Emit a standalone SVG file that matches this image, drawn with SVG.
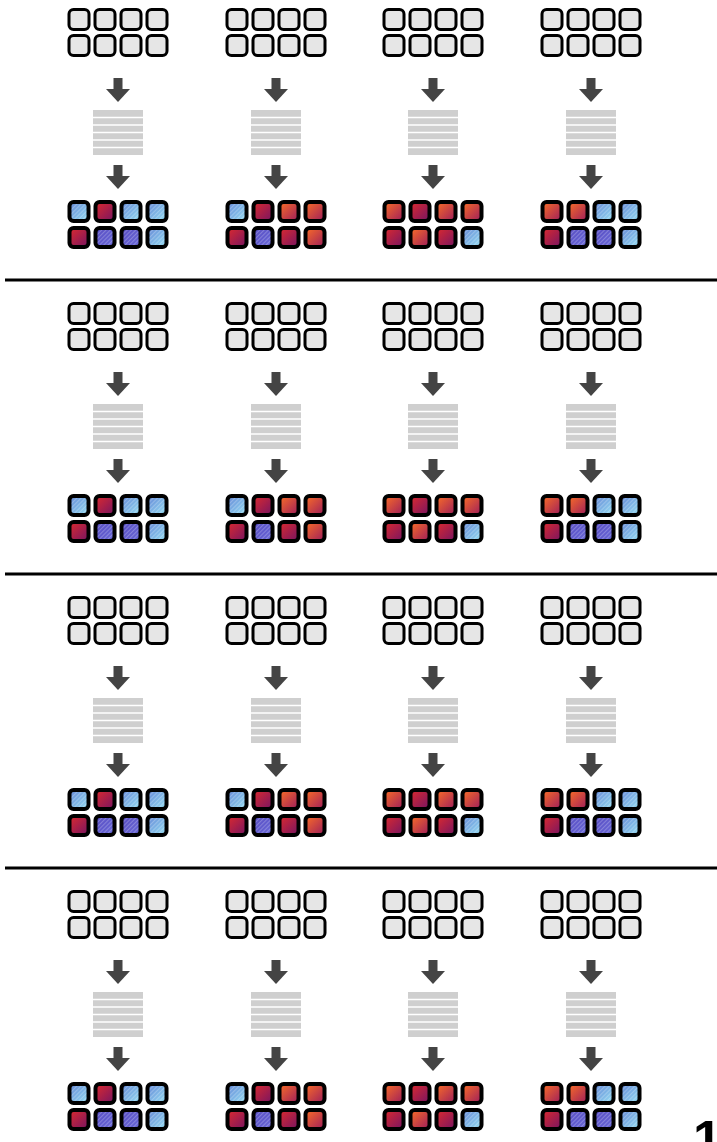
<svg xmlns="http://www.w3.org/2000/svg" xmlns:xlink="http://www.w3.org/1999/xlink" width="717" height="1142" viewBox="0 0 717 1142">
<style>
.g{fill:#e6e6e6;stroke:#000;stroke-width:3}
.c{stroke:#000;stroke-width:4}
.b{fill:url(#gB)}
.r{fill:url(#gR)}
.o{fill:url(#gO)}
.p{fill:url(#gP)}
.h{fill:url(#hatch);stroke:none}
.sep{stroke:#000;stroke-width:3}
.arr{fill:#444}
.num{font-family:"Liberation Sans",Arial,sans-serif;font-weight:bold;font-size:52px;fill:#000}
</style>
<defs>
<linearGradient id="gB" x1="0" y1="0" x2="1" y2="1"><stop offset="0" stop-color="#6386d6"/><stop offset="1" stop-color="#97dff3"/></linearGradient>
<linearGradient id="gR" x1="0" y1="0" x2="1" y2="1"><stop offset="0" stop-color="#dc2a2e"/><stop offset="1" stop-color="#761462"/></linearGradient>
<linearGradient id="gO" x1="0" y1="0" x2="1" y2="1"><stop offset="0" stop-color="#fb6e26"/><stop offset="1" stop-color="#9c1c5c"/></linearGradient>
<linearGradient id="gP" x1="0" y1="0" x2="1" y2="1"><stop offset="0" stop-color="#574cc2"/><stop offset="1" stop-color="#6a6ad8"/></linearGradient>
<pattern id="hatch" width="3" height="3" patternUnits="userSpaceOnUse" patternTransform="rotate(45)"><line x1="0.5" y1="0" x2="0.5" y2="3" stroke="#ffffff" stroke-width="0.8" stroke-opacity="0.3"/></pattern>
<g id="gray">
<rect class="g" x="1.5" y="1.5" width="20" height="20" rx="4.5"/><rect class="g" x="27.5" y="1.5" width="20" height="20" rx="4.5"/><rect class="g" x="53.5" y="1.5" width="20" height="20" rx="4.5"/><rect class="g" x="79.5" y="1.5" width="20" height="20" rx="4.5"/>
<rect class="g" x="1.5" y="27.5" width="20" height="20" rx="4.5"/><rect class="g" x="27.5" y="27.5" width="20" height="20" rx="4.5"/><rect class="g" x="53.5" y="27.5" width="20" height="20" rx="4.5"/><rect class="g" x="79.5" y="27.5" width="20" height="20" rx="4.5"/>
</g>
<g id="stripes">
<rect x="0" y="0" width="50" height="45" fill="#cfcfcf"/>
<g stroke="#fff" stroke-width="1.5"><line x1="0" y1="7.5" x2="50" y2="7.5"/><line x1="0" y1="15" x2="50" y2="15"/><line x1="0" y1="22.5" x2="50" y2="22.5"/><line x1="0" y1="30" x2="50" y2="30"/><line x1="0" y1="37.5" x2="50" y2="37.5"/></g>
</g>
<g id="arrow"><rect class="arr" x="-4.5" y="0" width="9" height="12"/><polygon class="arr" points="-12,11 12,11 0,24"/></g>
<g id="out1">
<rect class="c b" x="2" y="2" width="19" height="19" rx="4"/><rect class="h" x="4" y="4" width="15" height="15" rx="2.5"/>
<rect class="c r" x="28" y="2" width="19" height="19" rx="4"/>
<rect class="c b" x="54" y="2" width="19" height="19" rx="4"/><rect class="h" x="56" y="4" width="15" height="15" rx="2.5"/>
<rect class="c b" x="80" y="2" width="19" height="19" rx="4"/><rect class="h" x="82" y="4" width="15" height="15" rx="2.5"/>
<rect class="c r" x="2" y="28" width="19" height="19" rx="4"/>
<rect class="c p" x="28" y="28" width="19" height="19" rx="4"/><rect class="h" x="30" y="30" width="15" height="15" rx="2.5"/>
<rect class="c p" x="54" y="28" width="19" height="19" rx="4"/><rect class="h" x="56" y="30" width="15" height="15" rx="2.5"/>
<rect class="c b" x="80" y="28" width="19" height="19" rx="4"/><rect class="h" x="82" y="30" width="15" height="15" rx="2.5"/>
</g>
<g id="out2">
<rect class="c b" x="2" y="2" width="19" height="19" rx="4"/><rect class="h" x="4" y="4" width="15" height="15" rx="2.5"/>
<rect class="c r" x="28" y="2" width="19" height="19" rx="4"/>
<rect class="c o" x="54" y="2" width="19" height="19" rx="4"/>
<rect class="c o" x="80" y="2" width="19" height="19" rx="4"/>
<rect class="c r" x="2" y="28" width="19" height="19" rx="4"/>
<rect class="c p" x="28" y="28" width="19" height="19" rx="4"/><rect class="h" x="30" y="30" width="15" height="15" rx="2.5"/>
<rect class="c r" x="54" y="28" width="19" height="19" rx="4"/>
<rect class="c o" x="80" y="28" width="19" height="19" rx="4"/>
</g>
<g id="out3">
<rect class="c o" x="2" y="2" width="19" height="19" rx="4"/>
<rect class="c r" x="28" y="2" width="19" height="19" rx="4"/>
<rect class="c o" x="54" y="2" width="19" height="19" rx="4"/>
<rect class="c o" x="80" y="2" width="19" height="19" rx="4"/>
<rect class="c r" x="2" y="28" width="19" height="19" rx="4"/>
<rect class="c o" x="28" y="28" width="19" height="19" rx="4"/>
<rect class="c r" x="54" y="28" width="19" height="19" rx="4"/>
<rect class="c b" x="80" y="28" width="19" height="19" rx="4"/><rect class="h" x="82" y="30" width="15" height="15" rx="2.5"/>
</g>
<g id="out4">
<rect class="c o" x="2" y="2" width="19" height="19" rx="4"/>
<rect class="c o" x="28" y="2" width="19" height="19" rx="4"/>
<rect class="c b" x="54" y="2" width="19" height="19" rx="4"/><rect class="h" x="56" y="4" width="15" height="15" rx="2.5"/>
<rect class="c b" x="80" y="2" width="19" height="19" rx="4"/><rect class="h" x="82" y="4" width="15" height="15" rx="2.5"/>
<rect class="c r" x="2" y="28" width="19" height="19" rx="4"/>
<rect class="c p" x="28" y="28" width="19" height="19" rx="4"/><rect class="h" x="30" y="30" width="15" height="15" rx="2.5"/>
<rect class="c p" x="54" y="28" width="19" height="19" rx="4"/><rect class="h" x="56" y="30" width="15" height="15" rx="2.5"/>
<rect class="c b" x="80" y="28" width="19" height="19" rx="4"/><rect class="h" x="82" y="30" width="15" height="15" rx="2.5"/>
</g>
</defs>
<rect width="717" height="1142" fill="#fff"/>
<g id="separators">
<line class="sep" x1="5" y1="280" x2="717" y2="280"/>
<line class="sep" x1="5" y1="574" x2="717" y2="574"/>
<line class="sep" x1="5" y1="868" x2="717" y2="868"/>
</g>
<g id="connectors">
<use href="#arrow" x="118" y="78"/><use href="#arrow" x="276" y="78"/><use href="#arrow" x="433" y="78"/><use href="#arrow" x="591" y="78"/>
<use href="#arrow" x="118" y="165"/><use href="#arrow" x="276" y="165"/><use href="#arrow" x="433" y="165"/><use href="#arrow" x="591" y="165"/>
<use href="#arrow" x="118" y="372"/><use href="#arrow" x="276" y="372"/><use href="#arrow" x="433" y="372"/><use href="#arrow" x="591" y="372"/>
<use href="#arrow" x="118" y="459"/><use href="#arrow" x="276" y="459"/><use href="#arrow" x="433" y="459"/><use href="#arrow" x="591" y="459"/>
<use href="#arrow" x="118" y="666"/><use href="#arrow" x="276" y="666"/><use href="#arrow" x="433" y="666"/><use href="#arrow" x="591" y="666"/>
<use href="#arrow" x="118" y="753"/><use href="#arrow" x="276" y="753"/><use href="#arrow" x="433" y="753"/><use href="#arrow" x="591" y="753"/>
<use href="#arrow" x="118" y="960"/><use href="#arrow" x="276" y="960"/><use href="#arrow" x="433" y="960"/><use href="#arrow" x="591" y="960"/>
<use href="#arrow" x="118" y="1047"/><use href="#arrow" x="276" y="1047"/><use href="#arrow" x="433" y="1047"/><use href="#arrow" x="591" y="1047"/>
</g>
<g id="s1c1-input"><use href="#gray" x="67.5" y="8"/></g>
<g id="s1c1-model"><use href="#stripes" x="93" y="110"/></g>
<g id="s1c1-output"><use href="#out1" x="67.5" y="200"/></g>
<g id="s1c2-input"><use href="#gray" x="225.5" y="8"/></g>
<g id="s1c2-model"><use href="#stripes" x="251" y="110"/></g>
<g id="s1c2-output"><use href="#out2" x="225.5" y="200"/></g>
<g id="s1c3-input"><use href="#gray" x="382.5" y="8"/></g>
<g id="s1c3-model"><use href="#stripes" x="408" y="110"/></g>
<g id="s1c3-output"><use href="#out3" x="382.5" y="200"/></g>
<g id="s1c4-input"><use href="#gray" x="540.5" y="8"/></g>
<g id="s1c4-model"><use href="#stripes" x="566" y="110"/></g>
<g id="s1c4-output"><use href="#out4" x="540.5" y="200"/></g>
<g id="s2c1-input"><use href="#gray" x="67.5" y="302"/></g>
<g id="s2c1-model"><use href="#stripes" x="93" y="404"/></g>
<g id="s2c1-output"><use href="#out1" x="67.5" y="494"/></g>
<g id="s2c2-input"><use href="#gray" x="225.5" y="302"/></g>
<g id="s2c2-model"><use href="#stripes" x="251" y="404"/></g>
<g id="s2c2-output"><use href="#out2" x="225.5" y="494"/></g>
<g id="s2c3-input"><use href="#gray" x="382.5" y="302"/></g>
<g id="s2c3-model"><use href="#stripes" x="408" y="404"/></g>
<g id="s2c3-output"><use href="#out3" x="382.5" y="494"/></g>
<g id="s2c4-input"><use href="#gray" x="540.5" y="302"/></g>
<g id="s2c4-model"><use href="#stripes" x="566" y="404"/></g>
<g id="s2c4-output"><use href="#out4" x="540.5" y="494"/></g>
<g id="s3c1-input"><use href="#gray" x="67.5" y="596"/></g>
<g id="s3c1-model"><use href="#stripes" x="93" y="698"/></g>
<g id="s3c1-output"><use href="#out1" x="67.5" y="788"/></g>
<g id="s3c2-input"><use href="#gray" x="225.5" y="596"/></g>
<g id="s3c2-model"><use href="#stripes" x="251" y="698"/></g>
<g id="s3c2-output"><use href="#out2" x="225.5" y="788"/></g>
<g id="s3c3-input"><use href="#gray" x="382.5" y="596"/></g>
<g id="s3c3-model"><use href="#stripes" x="408" y="698"/></g>
<g id="s3c3-output"><use href="#out3" x="382.5" y="788"/></g>
<g id="s3c4-input"><use href="#gray" x="540.5" y="596"/></g>
<g id="s3c4-model"><use href="#stripes" x="566" y="698"/></g>
<g id="s3c4-output"><use href="#out4" x="540.5" y="788"/></g>
<g id="s4c1-input"><use href="#gray" x="67.5" y="890"/></g>
<g id="s4c1-model"><use href="#stripes" x="93" y="992"/></g>
<g id="s4c1-output"><use href="#out1" x="67.5" y="1082"/></g>
<g id="s4c2-input"><use href="#gray" x="225.5" y="890"/></g>
<g id="s4c2-model"><use href="#stripes" x="251" y="992"/></g>
<g id="s4c2-output"><use href="#out2" x="225.5" y="1082"/></g>
<g id="s4c3-input"><use href="#gray" x="382.5" y="890"/></g>
<g id="s4c3-model"><use href="#stripes" x="408" y="992"/></g>
<g id="s4c3-output"><use href="#out3" x="382.5" y="1082"/></g>
<g id="s4c4-input"><use href="#gray" x="540.5" y="890"/></g>
<g id="s4c4-model"><use href="#stripes" x="566" y="992"/></g>
<g id="s4c4-output"><use href="#out4" x="540.5" y="1082"/></g>
<g id="label"><text class="num" x="693" y="1157">1</text></g>
</svg>
